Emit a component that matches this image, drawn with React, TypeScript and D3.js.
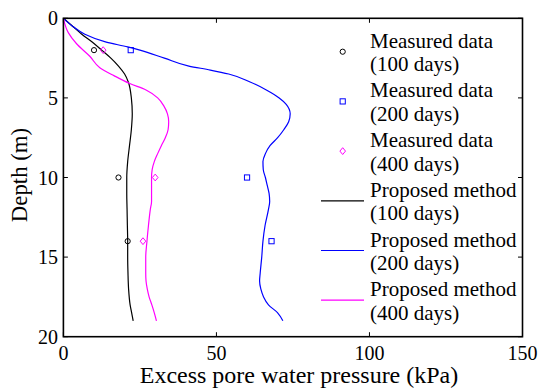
import React from 'react';
import * as d3 from 'd3';

// Depth profiles (m) and excess pore water pressure (kPa)
const depth100 = [0, 0.5, 1, 1.5, 2, 2.5, 3, 3.5, 4, 5, 6, 7, 8, 9, 10, 11, 12, 13, 14, 15, 16, 17, 18, 18.5, 19];
const pressure100 = [0, 3, 6, 9.5, 12.5, 15.5, 18, 20, 21.2, 22.2, 22.5, 22.2, 21.6, 21.0, 20.7, 20.7, 20.8, 20.9, 21, 21, 21.1, 21.3, 21.8, 22.3, 22.8];

const depth200 = [0, 0.5, 1, 1.5, 1.8, 2, 2.5, 3, 3.25, 3.5, 4, 4.5, 5, 5.4, 6, 6.5, 7, 7.5, 8, 8.5, 9, 9.5, 10, 10.5, 11, 11.5, 12, 13, 14, 15, 16, 16.5, 17, 17.5, 18, 18.5, 19];
const pressure200 = [0, 3, 7, 14, 21, 25, 33, 41, 48, 54, 61, 66.3, 70.5, 72.8, 74.1, 73.6, 72, 70, 67.5, 66, 65.2, 65.3, 66, 66.6, 67.2, 67.4, 67, 65.9, 65.2, 64.8, 64.3, 64.1, 64.5, 65.4, 67, 70, 71.7];

const depth400 = [0, 0.9, 1.6, 2.4, 3.1, 3.6, 4.1, 4.5, 5, 5.5, 6, 6.5, 7, 7.5, 8, 8.5, 9, 9.5, 10, 11, 11.5, 12, 13, 14, 15, 16, 16.5, 17, 17.5, 18, 18.5, 19];
const pressure400 = [0, 1.6, 4.3, 8.7, 11.9, 16.5, 21.7, 27, 30.8, 32.8, 34, 34.4, 34.2, 33.3, 32, 30.8, 29.7, 29, 28.8, 28.8, 28.8, 28.4, 27.8, 27.3, 26.9, 26.9, 27, 27.4, 28, 28.9, 29.7, 30.4];

// Field measurements
const measuredDepth = [2, 10, 14];
const measured100 = [10, 18, 21];
const measured200 = [22, 60, 68];
const measured400 = [13, 30, 26];

const xTicks = [0, 50, 100, 150];
const yTicks = [0, 5, 10, 15, 20];

const legendLabels = [
  ['Measured data', '(100 days)'],
  ['Measured data', '(200 days)'],
  ['Measured data', '(400 days)'],
  ['Proposed method', '(100 days)'],
  ['Proposed method', '(200 days)'],
  ['Proposed method', '(400 days)'],
];

const BLACK = '#000000';
const BLUE = '#0000ff';
const MAGENTA = '#ff00ff';

const W = 541;
const H = 391;
const FONT = '"Liberation Serif", "Times New Roman", serif';

export default function App() {
  const x = d3.scaleLinear().domain([0, 150]).range([63.4, 522.5]);
  const y = d3.scaleLinear().domain([0, 20]).range([18.3, 336.7]);

  const line = d3
    .line<[number, number]>()
    .x((d) => x(d[1]))
    .y((d) => y(d[0]))
    .curve(d3.curveMonotoneY);

  const profile = (ds: number[], ps: number[]) =>
    line(ds.map((d, i) => [d, ps[i]] as [number, number])) || '';

  const curves = [
    { d: profile(depth100, pressure100), color: BLACK },
    { d: profile(depth200, pressure200), color: BLUE },
    { d: profile(depth400, pressure400), color: MAGENTA },
  ];

  const circle = (cx: number, cy: number, key: string, color: string) => (
    <circle key={key} cx={cx} cy={cy} r={2.6} fill="none" stroke={color} strokeWidth={1} />
  );
  const square = (cx: number, cy: number, key: string, color: string) => (
    <rect key={key} x={cx - 2.6} y={cy - 2.6} width={5.2} height={5.2} fill="none" stroke={color} strokeWidth={1} />
  );
  const diamond = (cx: number, cy: number, key: string, color: string) => (
    <path key={key} d={`M${cx},${cy - 3.4}L${cx + 2.8},${cy}L${cx},${cy + 3.4}L${cx - 2.8},${cy}Z`} fill="none" stroke={color} strokeWidth={1} />
  );

  const [x0, x1] = x.range();
  const [y0, y1] = y.range();
  const tickLen = 4.5;

  const legendX = 321;
  const legendTextX = 370;
  const legendY0 = 51.7;
  const legendStep = 49.7;

  return (
    <svg width={W} height={H} style={{ position: 'absolute', left: 0, top: 0, background: '#fff' }} fontFamily={FONT}>
      <rect x={0} y={0} width={W} height={H} fill="#fff" />

      {/* profile curves */}
      {curves.map((c, i) => (
        <path key={`c${i}`} d={c.d} fill="none" stroke={c.color} strokeWidth={1.2} />
      ))}

      {/* measured points */}
      {measuredDepth.map((d, i) => circle(x(measured100[i]), y(d), `m1${i}`, BLACK))}
      {measuredDepth.map((d, i) => square(x(measured200[i]), y(d), `m2${i}`, BLUE))}
      {measuredDepth.map((d, i) => diamond(x(measured400[i]), y(d), `m4${i}`, MAGENTA))}

      {/* axes box */}
      <rect x={x0} y={y0} width={x1 - x0} height={y1 - y0} fill="none" stroke="#000" strokeWidth={1.6} />

      {xTicks.map((t) => (
        <g key={`xt${t}`}>
          <line x1={x(t)} x2={x(t)} y1={y1} y2={y1 - tickLen} stroke="#000" strokeWidth={1} />
          <line x1={x(t)} x2={x(t)} y1={y0} y2={y0 + tickLen} stroke="#000" strokeWidth={1} />
          <text x={x(t)} y={360} fontSize={20} textAnchor="middle" fill="#000">{t}</text>
        </g>
      ))}
      {yTicks.map((t) => (
        <g key={`yt${t}`}>
          <line x1={x0} x2={x0 + tickLen} y1={y(t)} y2={y(t)} stroke="#000" strokeWidth={1} />
          <line x1={x1} x2={x1 - tickLen} y1={y(t)} y2={y(t)} stroke="#000" strokeWidth={1} />
          <text x={58} y={y(t) + 7} fontSize={20} textAnchor="end" fill="#000">{t}</text>
        </g>
      ))}

      <text x={299} y={383} fontSize={24} textAnchor="middle" fill="#000">
        Excess pore water pressure (kPa)
      </text>
      <text transform="translate(27,175) rotate(-90)" fontSize={22.8} textAnchor="middle" fill="#000">
        Depth (m)
      </text>

      {/* legend */}
      {legendLabels.map((lab, i) => {
        const cy = legendY0 + i * legendStep;
        const mx = 342.7;
        let sym: React.ReactNode = null;
        if (i === 0) sym = circle(mx, cy, 'l0', BLACK);
        if (i === 1) sym = square(mx, cy, 'l1', BLUE);
        if (i === 2) sym = diamond(mx, cy, 'l2', MAGENTA);
        if (i >= 3) {
          const col = [BLACK, BLUE, MAGENTA][i - 3];
          sym = <line x1={legendX} x2={364} y1={cy} y2={cy} stroke={col} strokeWidth={1.2} />;
        }
        return (
          <g key={`lg${i}`}>
            {sym}
            <text x={legendTextX} y={cy - 4} fontSize={21} fill="#000">{lab[0]}</text>
            <text x={legendTextX} y={cy + 19.5} fontSize={21} fill="#000">{lab[1]}</text>
          </g>
        );
      })}
    </svg>
  );
}
